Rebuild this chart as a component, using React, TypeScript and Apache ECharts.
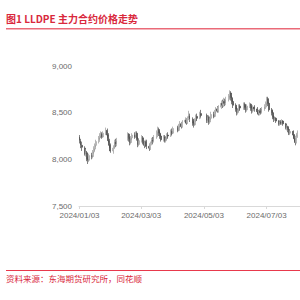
import React, { useEffect, useRef } from 'react';
import * as echarts from 'echarts';

const TITLE = '图1 LLDPE 主力合约价格走势';
const SOURCE = '资料来源：东海期货研究所，同花顺';
const START_DATE = '2024-01-03';
const END_DATE = '2024-08-04';
const tickLabels = ['2024/01/03', '2024/03/03', '2024/05/03', '2024/07/03'];
const Y_MIN = 7500;
const Y_MAX = 9000;
const Y_STEP = 500;

// [date, open, close, low, high]
const candlesJan: [string, number, number, number, number][] = [
  ['2024/01/03', 8240, 8200, 8170, 8260],
  ['2024/01/04', 8200, 8150, 8120, 8220],
  ['2024/01/05', 8150, 8130, 8090, 8190],
  ['2024/01/08', 8120, 8060, 8040, 8140],
  ['2024/01/09', 8060, 8080, 8030, 8110],
  ['2024/01/10', 8070, 8000, 7980, 8090],
  ['2024/01/11', 8000, 7990, 7950, 8030],
  ['2024/01/12', 7990, 8040, 7970, 8060],
  ['2024/01/15', 8040, 8030, 8000, 8070],
  ['2024/01/16', 8030, 8080, 8010, 8100],
  ['2024/01/17', 8080, 8110, 8060, 8140],
  ['2024/01/18', 8110, 8150, 8090, 8170],
  ['2024/01/19', 8150, 8190, 8130, 8210],
  ['2024/01/22', 8190, 8230, 8170, 8250],
  ['2024/01/23', 8230, 8250, 8210, 8280],
  ['2024/01/24', 8250, 8270, 8230, 8300],
  ['2024/01/25', 8270, 8240, 8220, 8290],
  ['2024/01/26', 8240, 8280, 8230, 8300],
  ['2024/01/29', 8280, 8310, 8260, 8340],
  ['2024/01/30', 8310, 8260, 8230, 8330],
  ['2024/01/31', 8260, 8200, 8180, 8280],
];
const candlesFeb: [string, number, number, number, number][] = [
  ['2024/02/01', 8200, 8150, 8120, 8220],
  ['2024/02/02', 8150, 8090, 8070, 8170],
  ['2024/02/05', 8090, 8120, 8060, 8150],
  ['2024/02/06', 8120, 8190, 8110, 8210],
  ['2024/02/07', 8190, 8160, 8130, 8220],
  ['2024/02/08', 8160, 8200, 8140, 8230],
  ['2024/02/19', 8240, 8270, 8200, 8290],
  ['2024/02/20', 8270, 8220, 8190, 8280],
  ['2024/02/21', 8220, 8180, 8150, 8240],
  ['2024/02/22', 8180, 8230, 8160, 8250],
  ['2024/02/23', 8230, 8260, 8210, 8280],
  ['2024/02/26', 8260, 8240, 8220, 8290],
  ['2024/02/27', 8240, 8280, 8230, 8300],
  ['2024/02/28', 8280, 8220, 8200, 8300],
  ['2024/02/29', 8220, 8160, 8130, 8240],
];
const candlesMar: [string, number, number, number, number][] = [
  ['2024/03/01', 8160, 8200, 8140, 8220],
  ['2024/03/04', 8200, 8230, 8180, 8260],
  ['2024/03/05', 8230, 8180, 8160, 8250],
  ['2024/03/06', 8180, 8150, 8120, 8200],
  ['2024/03/07', 8150, 8190, 8130, 8210],
  ['2024/03/08', 8190, 8140, 8110, 8210],
  ['2024/03/11', 8140, 8120, 8090, 8160],
  ['2024/03/12', 8120, 8170, 8100, 8190],
  ['2024/03/13', 8170, 8210, 8150, 8230],
  ['2024/03/14', 8210, 8190, 8160, 8240],
  ['2024/03/15', 8190, 8240, 8180, 8260],
  ['2024/03/18', 8240, 8290, 8220, 8310],
  ['2024/03/19', 8290, 8320, 8260, 8350],
  ['2024/03/20', 8320, 8280, 8250, 8340],
  ['2024/03/21', 8280, 8250, 8220, 8300],
  ['2024/03/22', 8250, 8210, 8190, 8270],
  ['2024/03/25', 8210, 8240, 8190, 8260],
  ['2024/03/26', 8240, 8200, 8180, 8260],
  ['2024/03/27', 8200, 8230, 8180, 8250],
  ['2024/03/28', 8230, 8260, 8210, 8280],
  ['2024/03/29', 8260, 8250, 8220, 8290],
];
const candlesApr: [string, number, number, number, number][] = [
  ['2024/04/01', 8250, 8300, 8240, 8320],
  ['2024/04/02', 8300, 8280, 8260, 8330],
  ['2024/04/03', 8280, 8330, 8270, 8350],
  ['2024/04/08', 8340, 8310, 8290, 8360],
  ['2024/04/09', 8310, 8360, 8300, 8380],
  ['2024/04/10', 8360, 8380, 8340, 8410],
  ['2024/04/11', 8380, 8350, 8330, 8400],
  ['2024/04/12', 8350, 8400, 8340, 8420],
  ['2024/04/15', 8400, 8420, 8380, 8450],
  ['2024/04/16', 8420, 8390, 8370, 8440],
  ['2024/04/17', 8390, 8440, 8380, 8460],
  ['2024/04/18', 8440, 8470, 8420, 8520],
  ['2024/04/19', 8470, 8430, 8400, 8490],
  ['2024/04/22', 8430, 8390, 8360, 8450],
  ['2024/04/23', 8390, 8370, 8340, 8410],
  ['2024/04/24', 8370, 8420, 8360, 8440],
  ['2024/04/25', 8420, 8460, 8400, 8480],
  ['2024/04/26', 8460, 8440, 8410, 8490],
  ['2024/04/29', 8440, 8490, 8430, 8510],
  ['2024/04/30', 8490, 8470, 8450, 8530],
];
const candlesMay: [string, number, number, number, number][] = [
  ['2024/05/06', 8470, 8420, 8390, 8490],
  ['2024/05/07', 8420, 8450, 8390, 8470],
  ['2024/05/08', 8450, 8400, 8370, 8470],
  ['2024/05/09', 8400, 8440, 8380, 8460],
  ['2024/05/10', 8440, 8480, 8420, 8510],
  ['2024/05/13', 8480, 8460, 8440, 8510],
  ['2024/05/14', 8460, 8510, 8450, 8530],
  ['2024/05/15', 8510, 8540, 8490, 8560],
  ['2024/05/16', 8540, 8520, 8500, 8570],
  ['2024/05/17', 8520, 8560, 8500, 8580],
  ['2024/05/20', 8560, 8600, 8540, 8630],
  ['2024/05/21', 8600, 8580, 8550, 8640],
  ['2024/05/22', 8580, 8620, 8560, 8660],
  ['2024/05/23', 8620, 8600, 8570, 8650],
  ['2024/05/24', 8600, 8640, 8580, 8670],
  ['2024/05/27', 8640, 8680, 8620, 8700],
  ['2024/05/28', 8680, 8710, 8650, 8740],
  ['2024/05/29', 8710, 8660, 8630, 8730],
  ['2024/05/30', 8660, 8620, 8590, 8680],
  ['2024/05/31', 8620, 8580, 8550, 8640],
];
const candlesJun: [string, number, number, number, number][] = [
  ['2024/06/03', 8580, 8540, 8510, 8600],
  ['2024/06/04', 8540, 8500, 8470, 8560],
  ['2024/06/05', 8500, 8530, 8480, 8550],
  ['2024/06/06', 8530, 8570, 8510, 8590],
  ['2024/06/07', 8570, 8550, 8520, 8590],
  ['2024/06/11', 8550, 8590, 8530, 8610],
  ['2024/06/12', 8590, 8560, 8530, 8610],
  ['2024/06/13', 8560, 8530, 8500, 8580],
  ['2024/06/14', 8530, 8570, 8510, 8590],
  ['2024/06/17', 8570, 8590, 8550, 8610],
  ['2024/06/18', 8590, 8550, 8520, 8600],
  ['2024/06/19', 8550, 8520, 8490, 8570],
  ['2024/06/20', 8520, 8560, 8500, 8580],
  ['2024/06/21', 8560, 8540, 8510, 8580],
  ['2024/06/24', 8540, 8510, 8480, 8560],
  ['2024/06/25', 8510, 8490, 8470, 8530],
  ['2024/06/26', 8490, 8520, 8470, 8540],
  ['2024/06/27', 8520, 8500, 8480, 8550],
  ['2024/06/28', 8500, 8540, 8490, 8560],
];
const candlesJul: [string, number, number, number, number][] = [
  ['2024/07/01', 8540, 8560, 8520, 8590],
  ['2024/07/02', 8560, 8600, 8540, 8620],
  ['2024/07/03', 8600, 8650, 8580, 8670],
  ['2024/07/04', 8650, 8600, 8570, 8670],
  ['2024/07/05', 8600, 8530, 8510, 8610],
  ['2024/07/08', 8530, 8500, 8470, 8550],
  ['2024/07/09', 8500, 8450, 8430, 8520],
  ['2024/07/10', 8450, 8430, 8400, 8470],
  ['2024/07/11', 8430, 8440, 8410, 8460],
  ['2024/07/12', 8440, 8410, 8390, 8450],
  ['2024/07/15', 8410, 8380, 8360, 8420],
  ['2024/07/16', 8380, 8400, 8360, 8420],
  ['2024/07/17', 8400, 8390, 8370, 8420],
  ['2024/07/18', 8390, 8410, 8370, 8430],
  ['2024/07/19', 8410, 8380, 8360, 8420],
  ['2024/07/22', 8380, 8340, 8320, 8390],
  ['2024/07/23', 8340, 8350, 8310, 8370],
  ['2024/07/24', 8350, 8320, 8290, 8360],
  ['2024/07/25', 8320, 8280, 8260, 8330],
  ['2024/07/26', 8280, 8300, 8260, 8320],
  ['2024/07/29', 8300, 8260, 8230, 8310],
  ['2024/07/30', 8260, 8220, 8190, 8270],
  ['2024/07/31', 8220, 8180, 8150, 8230],
];
const candlesAug: [string, number, number, number, number][] = [
  ['2024/08/01', 8180, 8250, 8170, 8270],
  ['2024/08/02', 8250, 8280, 8230, 8310],
];

function buildDays(start: string, end: string): string[] {
  const out: string[] = [];
  const d = new Date(start + 'T00:00:00Z');
  const e = new Date(end + 'T00:00:00Z');
  while (d.getTime() <= e.getTime()) {
    const y = d.getUTCFullYear();
    const m = String(d.getUTCMonth() + 1).padStart(2, '0');
    const dd = String(d.getUTCDate()).padStart(2, '0');
    out.push(`${y}/${m}/${dd}`);
    d.setUTCDate(d.getUTCDate() + 1);
  }
  return out;
}

export default function App() {
  const ref = useRef<HTMLDivElement>(null);
  useEffect(() => {
    if (!ref.current) return;
    const chart = echarts.init(ref.current, undefined, { renderer: 'svg' });
    const days = buildDays(START_DATE, END_DATE);
    const all = [
      ...candlesJan, ...candlesFeb, ...candlesMar, ...candlesApr,
      ...candlesMay, ...candlesJun, ...candlesJul, ...candlesAug,
    ];
    const map = new Map<string, number[]>();
    all.forEach((c) => map.set(c[0], [c[1], c[2], c[3], c[4]]));
    const seriesData = days.map((d) => (map.has(d) ? map.get(d)! : '-'));
    const showTick = (_i: number, v: string) => tickLabels.includes(v);

    chart.setOption({
      animation: false,
      backgroundColor: '#ffffff',
      grid: { left: 79, right: 0, top: 66, bottom: 94, containLabel: false },
      xAxis: {
        type: 'category',
        data: days,
        boundaryGap: true,
        axisLine: { show: true, lineStyle: { color: '#d9d9d9', width: 1 } },
        axisTick: { show: true, interval: showTick, alignWithLabel: true, length: 3, lineStyle: { color: '#d9d9d9' } },
        axisLabel: {
          interval: showTick,
          color: '#6b6b6b',
          fontSize: 8,
          fontFamily: 'Liberation Sans',
          margin: 5,
        },
        splitLine: { show: false },
      },
      yAxis: {
        type: 'value',
        min: Y_MIN,
        max: Y_MAX,
        interval: Y_STEP,
        axisLine: { show: false },
        axisTick: { show: false },
        splitLine: { show: false },
        axisLabel: {
          color: '#6b6b6b',
          fontSize: 8,
          fontFamily: 'Liberation Sans',
          margin: 7,
          formatter: (v: number) => String(v).replace(/\B(?=(\d{3})+(?!\d))/g, ','),
        },
      },
      series: [
        {
          type: 'candlestick',
          data: seriesData,
          barWidth: 1.4,
          itemStyle: {
            color: '#ffffff',
            color0: '#4a4a4a',
            borderColor: '#9a9a9a',
            borderColor0: '#4a4a4a',
            borderWidth: 0.7,
          },
        },
      ],
      graphic: [
        {
          type: 'text',
          left: 6,
          top: 13,
          style: {
            text: TITLE,
            fill: '#d9283c',
            font: 'bold 10px "Noto Sans CJK SC"',
          },
        },
        {
          type: 'rect',
          shape: { x: 6, y: 28, width: 294, height: 1.5 },
          style: { fill: '#ea6a78' },
        },
        {
          type: 'rect',
          shape: { x: 6, y: 270, width: 294, height: 1 },
          style: { fill: '#e8394c' },
        },
        {
          type: 'text',
          left: 6,
          top: 274,
          style: {
            text: SOURCE,
            fill: '#d9283c',
            font: '8.5px "Noto Sans CJK SC"',
          },
        },
      ],
    });
    return () => chart.dispose();
  }, []);
  return (
    <div
      ref={ref}
      style={{ position: 'fixed', left: 0, top: 0, width: 300, height: 300 }}
    />
  );
}
